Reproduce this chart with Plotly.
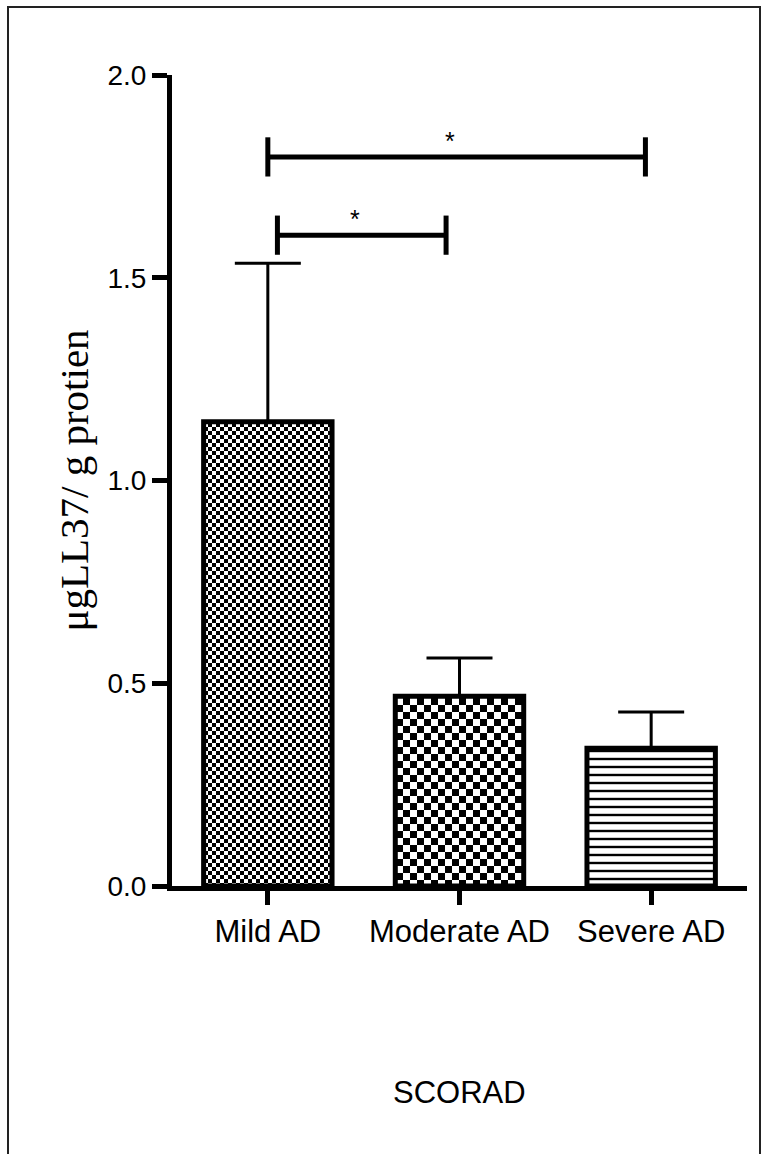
import plotly.graph_objects as go

# group means and SEM
groups = ["Mild AD", "Moderate AD", "Severe AD"]
means = [1.145, 0.468, 0.340]
sem = [0.391, 0.094, 0.089]

# significance brackets (x in category index units, y in data units)
bracket_x0 = [0.05, 0.0]
bracket_x1 = [0.93, 1.97]
bracket_y = [1.605, 1.798]
bracket_label = ["*", "*"]

y_ticks = [0.0, 0.5, 1.0, 1.5, 2.0]

# checker cell size (px) per bar, 0 = keep native pattern
checker_cells = [4, 7, 0]

W, H = 763, 1154
L, R, T, B = 172, 16, 75, 268
pw, ph = W - L - R, H - T - B

fig = go.Figure()

fig.add_trace(go.Bar(
    x=list(range(len(groups))), y=means,
    width=0.67,
    marker=dict(
        color="white",
        line=dict(color="black", width=5),
        pattern=dict(shape=["x", "x", "-"], fgcolor="black", bgcolor="white",
                     size=[6, 12, 8], solidity=[0.5, 0.5, 0.3], fillmode="replace"),
    ),
    error_y=dict(type="data", symmetric=False, array=sem,
                 arrayminus=[0] * len(sem), color="black", thickness=3, width=33),
    showlegend=False,
))

for x0, x1, yb, lab in zip(bracket_x0, bracket_x1, bracket_y, bracket_label):
    fig.add_trace(go.Scatter(
        x=[x0, x1], y=[yb, yb], mode="lines+markers",
        line=dict(color="black", width=5),
        marker=dict(symbol="line-ns", size=28, line=dict(color="black", width=5)),
        showlegend=False, hoverinfo="skip",
    ))
    fig.add_annotation(x=(x0 + x1) / 2, y=yb, text=lab, showarrow=False,
                       xshift=-7, yshift=16, font=dict(size=25, color="black"))

axis_font = "Liberation Sans, Arial, sans-serif"

fig.update_xaxes(
    range=[-0.5, 2.5], tickvals=list(range(len(groups))), ticktext=groups,
    showline=True, linecolor="black", linewidth=5, mirror=False,
    ticks="outside", ticklen=14, tickwidth=5, tickcolor="black",
    showgrid=False, zeroline=False,
    tickfont=dict(family=axis_font, size=31, color="black"),
)
fig.update_yaxes(
    range=[0, 2.0], tickvals=y_ticks, ticktext=[f"{v:.1f}" for v in y_ticks],
    showline=True, linecolor="black", linewidth=5,
    ticks="outside", ticklen=15, tickwidth=5, tickcolor="black",
    showgrid=False, zeroline=False,
    tickfont=dict(family=axis_font, size=28, color="black"),
)

# axis titles as annotations to pin their placement
fig.add_annotation(xref="paper", yref="paper", x=(73 - L) / pw, y=0.5,
                   xanchor="center", yanchor="middle",
                   text="μgLL37/ g protien", textangle=-90, showarrow=False,
                   font=dict(family="Liberation Serif, Times New Roman, serif", size=41, color="black"))
fig.add_annotation(xref="paper", yref="paper", x=0.5, y=(T + ph - 1092) / ph,
                   xanchor="center", yanchor="middle",
                   text="SCORAD", showarrow=False,
                   font=dict(family=axis_font, size=31, color="black"))

# outer frame
fig.add_shape(type="rect", xref="paper", yref="paper",
              x0=(8 - L) / pw, x1=(760 - L) / pw,
              y0=(T + ph - 1170) / ph, y1=(T + ph - 7) / ph,
              line=dict(color="#222222", width=2), layer="below")

fig.update_layout(
    width=W, height=H,
    margin=dict(l=L, r=R, t=T, b=B),
    plot_bgcolor="white", paper_bgcolor="white",
    font=dict(family=axis_font, color="black"),
)

# swap plotly's hatch fills for true checkerboards after render
post = """
document.body.style.margin = '0';
var gd = document.getElementById('{plot_id}');
var cells = %s;
var ns = 'http://www.w3.org/2000/svg';
var svg = gd.querySelector('svg.main-svg');
var defs = svg.querySelector('defs');
function rect(x, y, w, h, c) {
  var r = document.createElementNS(ns, 'rect');
  r.setAttribute('x', x); r.setAttribute('y', y);
  r.setAttribute('width', w); r.setAttribute('height', h);
  r.setAttribute('fill', c);
  return r;
}
var paths = gd.querySelectorAll('.barlayer .trace .point path');
paths.forEach(function(p, i) {
  var c = cells[i];
  if (!c) return;
  var id = 'checker' + i;
  var pat = document.createElementNS(ns, 'pattern');
  pat.setAttribute('id', id);
  pat.setAttribute('patternUnits', 'userSpaceOnUse');
  pat.setAttribute('width', 2 * c); pat.setAttribute('height', 2 * c);
  pat.appendChild(rect(0, 0, 2 * c, 2 * c, 'white'));
  pat.appendChild(rect(0, 0, c, c, 'black'));
  pat.appendChild(rect(c, c, c, c, 'black'));
  defs.appendChild(pat);
  p.style.fill = 'url(#' + id + ')';
});
""" % str(checker_cells)

fig.write_html("out.html", post_script=post, config={"displayModeBar": False})
